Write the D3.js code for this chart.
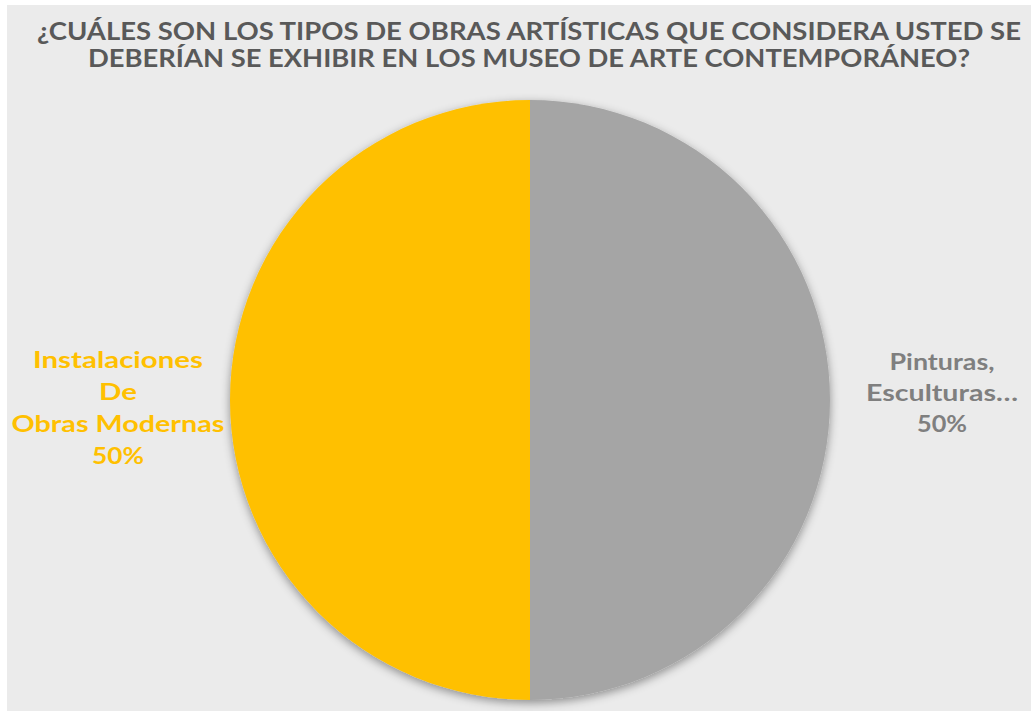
<!DOCTYPE html>
<html>
<head>
<meta charset="utf-8">
<script src="https://cdn.jsdelivr.net/npm/d3@7"></script>
<style>
html,body{margin:0;padding:0;background:#ffffff;}
svg{display:block;}
</style>
</head>
<body>
<script>
const titleLines = ["¿CUÁLES SON LOS TIPOS DE OBRAS ARTÍSTICAS QUE CONSIDERA USTED SE", "DEBERÍAN SE EXHIBIR EN LOS MUSEO DE ARTE CONTEMPORÁNEO?"];
const categories = ["Pinturas, Esculturas…", "Instalaciones De Obras Modernas"];
const values = [50, 50];
const colors = ["#A5A5A5", "#FFC000"];
const labelColors = ["#7F7F7F", "#FFC000"];
const labelLines = [["Pinturas,", "Esculturas…", "50%"], ["Instalaciones", "De", "Obras Modernas", "50%"]];

const W = 1031, H = 711;
const svg = d3.select("body").append("svg").attr("width", W).attr("height", H);
const FONT = "Lato, 'DejaVu Sans', sans-serif";

const defs = svg.append("defs");
const f = defs.append("filter").attr("id", "shadow").attr("x", "-10%").attr("y", "-10%").attr("width", "120%").attr("height", "120%");
f.append("feDropShadow").attr("dx", 0).attr("dy", 3).attr("stdDeviation", 5).attr("flood-color", "#000").attr("flood-opacity", 0.4);

svg.append("rect").attr("x", 7).attr("y", 5).attr("width", W - 7).attr("height", H - 5).attr("fill", "#EBEBEB");

// title
const titleY = [40, 67];
const titleW = [984, 882];
titleLines.forEach((t, i) => {
  svg.append("text").attr("x", 529).attr("y", titleY[i]).attr("text-anchor", "middle")
    .attr("font-family", FONT).attr("font-weight", "bold").attr("font-size", 24)
    .attr("fill", "#595959").attr("textLength", titleW[i]).attr("lengthAdjust", "spacingAndGlyphs")
    .text(t);
});

const cx = 530, cy = 400, r = 300;
const pie = d3.pie().sort(null).value(d => d)(values);
const arc = d3.arc().innerRadius(0).outerRadius(r);
const g = svg.append("g").attr("transform", `translate(${cx},${cy})`);
g.append("g").attr("filter", "url(#shadow)").selectAll("path").data(pie).join("path")
  .attr("d", arc).attr("fill", (d, i) => colors[i]);

// labels
const labelPos = [{x: 942, y: 370, step: 31, widths: [105, 152, 50]}, {x: 118, y: 368, step: 32, widths: [170, 38, 213, 52]}];
labelLines.forEach((lines, i) => {
  const p = labelPos[i];
  lines.forEach((l, j) => {
    svg.append("text").attr("x", p.x).attr("y", p.y + j * p.step).attr("text-anchor", "middle")
      .attr("font-family", FONT).attr("font-weight", "bold").attr("font-size", 23)
      .attr("fill", labelColors[i]).attr("textLength", p.widths[j]).attr("lengthAdjust", "spacingAndGlyphs")
      .text(l);
  });
});
</script>
</body>
</html>
